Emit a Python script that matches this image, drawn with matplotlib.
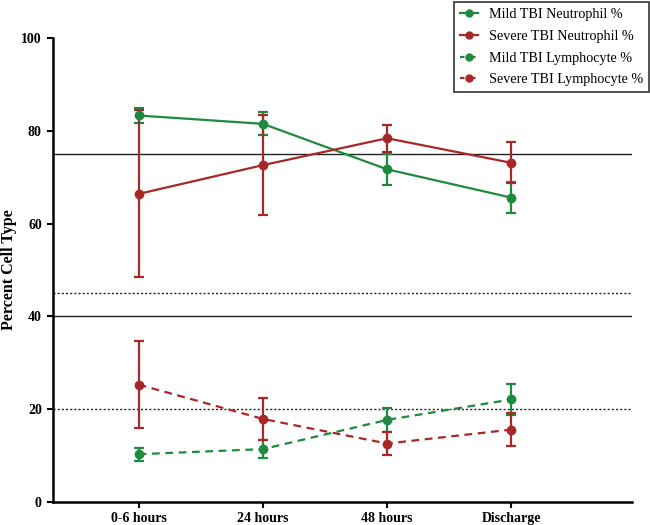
import matplotlib
matplotlib.use("Agg")
import matplotlib.pyplot as plt
from matplotlib.lines import Line2D

categories = ["0-6 hours", "24 hours", "48 hours", "Discharge"]
mild_neut = [83.3, 81.5, 71.7, 65.6]
mild_neut_err = [1.7, 2.5, 3.4, 3.4]
severe_neut = [66.4, 72.6, 78.4, 73.1]
severe_neut_err = [18.0, 10.7, 2.9, 4.4]
mild_lymph = [10.3, 11.4, 17.7, 22.1]
mild_lymph_err = [1.4, 1.9, 2.6, 3.3]
severe_lymph = [25.3, 17.9, 12.6, 15.6]
severe_lymph_err = [9.3, 4.5, 2.5, 3.5]
solid_refs = [75, 40]
dotted_refs = [45, 20]
yticks = [0, 20, 40, 60, 80, 100]

green = "#1f8a3f"
red = "#a82828"

plt.rcParams['font.family'] = ['Liberation Serif', 'DejaVu Serif']

fig = plt.figure(figsize=(6.5, 5.25), dpi=100)
ax = fig.add_axes([0.0815, 0.0438, 0.8905, 0.8838])

x = list(range(len(categories)))
for y in solid_refs:
    ax.axhline(y, color="#222222", lw=1.0, zorder=1)
for y in dotted_refs:
    ax.axhline(y, color="#222222", lw=1.0, ls=(0, (1.5, 1.5)), zorder=1)

kw = dict(marker="o", ms=6, lw=1.6, capsize=3.5, capthick=1.6, elinewidth=1.6, zorder=3)
ax.errorbar(x, mild_neut, yerr=mild_neut_err, color=green, ls="-", **kw)
ax.errorbar(x, severe_neut, yerr=severe_neut_err, color=red, ls="-", **kw)
ax.errorbar(x, mild_lymph, yerr=mild_lymph_err, color=green, ls=(0, (3.5, 2.5)), **kw)
ax.errorbar(x, severe_lymph, yerr=severe_lymph_err, color=red, ls=(0, (3.5, 2.5)), **kw)

ax.set_xlim(-0.69, 3.97)
ax.set_ylim(0, 100)
ax.set_xticks(x)
ax.set_xticklabels(categories, fontsize=10, fontweight="bold")
ax.set_yticks(yticks)
ax.set_yticklabels([str(t) for t in yticks], fontsize=10, fontweight="bold")
ax.spines["top"].set_visible(False)
ax.spines["right"].set_visible(False)
ax.spines["left"].set_linewidth(1.8)
ax.spines["bottom"].set_linewidth(1.8)
ax.tick_params(axis="both", width=1.5, length=4)
ax.tick_params(axis="x", pad=3)
ax.tick_params(axis="y", pad=4)
ax.set_ylabel("Percent Cell Type", fontsize=11.5, fontweight="bold")
ax.yaxis.set_label_coords(-0.062, 0.5)

handles = [
    Line2D([], [], color=green, marker="o", ms=5, lw=1.6, ls="-"),
    Line2D([], [], color=red, marker="o", ms=5, lw=1.6, ls="-"),
    Line2D([], [], color=green, marker="o", ms=5, lw=1.6, ls=(0, (2, 3))),
    Line2D([], [], color=red, marker="o", ms=5, lw=1.6, ls=(0, (2, 3))),
]
labels = ["Mild TBI Neutrophil %", "Severe TBI Neutrophil %",
          "Mild TBI Lymphocyte %", "Severe TBI Lymphocyte %"]
leg = fig.legend(handles, labels, loc="upper right", bbox_to_anchor=(0.9985, 0.996),
                 fontsize=10.2, frameon=True, fancybox=False, edgecolor="black",
                 handlelength=1.27, handletextpad=0.77, borderpad=0.42,
                 labelspacing=0.62, borderaxespad=0.0)
leg.get_frame().set_linewidth(1.2)

fig.savefig("out.png", dpi=100)
